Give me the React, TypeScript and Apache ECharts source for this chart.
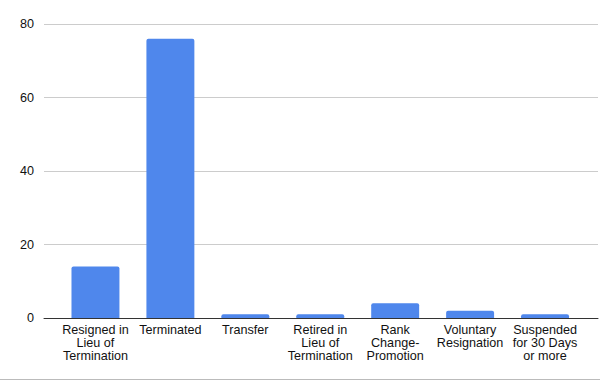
import React, { useEffect, useRef } from "react";
import * as echarts from "echarts";

const categories = [
  "Resigned in\nLieu of\nTermination",
  "Terminated",
  "Transfer",
  "Retired in\nLieu of\nTermination",
  "Rank\nChange-\nPromotion",
  "Voluntary\nResignation",
  "Suspended\nfor 30 Days\nor more",
];
const values = [14, 76, 1, 1, 4, 2, 1];
const yTicks = { min: 0, max: 80, interval: 20 };

const FONT = "Liberation Sans, Arial, sans-serif";

export default function App() {
  const ref = useRef<HTMLDivElement>(null);
  useEffect(() => {
    const chart = echarts.init(ref.current!, undefined, { renderer: "svg" });
    chart.setOption({
      animation: false,
      textStyle: { fontFamily: FONT },
      grid: [
        { left: 44, right: 2, top: 24, bottom: 63, containLabel: false },
        { left: 58, right: 17.5, top: 24, bottom: 63, containLabel: false },
      ],
      xAxis: [
        {
          gridIndex: 0,
          type: "value",
          min: 0,
          max: 1,
          axisLabel: { show: false },
          axisTick: { show: false },
          splitLine: { show: false },
          axisLine: { show: true, lineStyle: { color: "#333333", width: 1 } },
        },
        {
          gridIndex: 1,
          type: "category",
          data: categories,
          axisTick: { show: false },
          axisLine: { show: false },
          axisLabel: {
            interval: 0,
            color: "#111111",
            fontSize: 12.6,
            lineHeight: 12.6,
            margin: 6,
            fontFamily: FONT,
          },
        },
      ],
      yAxis: [
        {
          gridIndex: 0,
          type: "value",
          min: yTicks.min,
          max: yTicks.max,
          interval: yTicks.interval,
          axisLine: { show: false },
          axisTick: { show: false },
          splitLine: { lineStyle: { color: "#cccccc", width: 1 } },
          axisLabel: {
            color: "#111111",
            fontSize: 12.6,
            margin: 10,
            fontFamily: FONT,
          },
        },
        {
          gridIndex: 1,
          type: "value",
          min: yTicks.min,
          max: yTicks.max,
          interval: yTicks.interval,
          show: false,
        },
      ],
      series: [
        {
          type: "bar",
          xAxisIndex: 1,
          yAxisIndex: 1,
          data: values,
          barWidth: "64%",
          itemStyle: { color: "#4f87ec", borderRadius: [2, 2, 0, 0] },
        },
      ],
      graphic: [
        {
          type: "line",
          shape: { x1: 0, y1: 379.5, x2: 600, y2: 379.5 },
          style: { stroke: "#bbbbbb", lineWidth: 1 },
        },
      ],
    });
    return () => chart.dispose();
  }, []);
  return <div ref={ref} style={{ width: 600, height: 381, position: "absolute", left: 0, top: 0 }} />;
}
